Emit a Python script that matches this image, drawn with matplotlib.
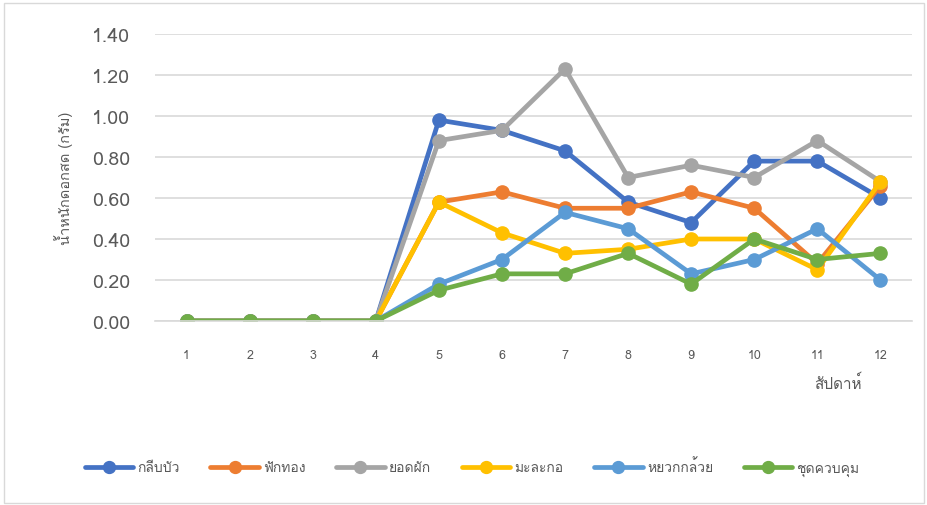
import matplotlib
matplotlib.use("Agg")
import matplotlib.pyplot as plt
from matplotlib import font_manager
from matplotlib.ft2font import FT2Font

weeks = [1, 2, 3, 4, 5, 6, 7, 8, 9, 10, 11, 12]
series_names = ["กลีบบัว", "ฟักทอง", "ยอดผัก", "มะละกอ", "หยวกกล้วย", "ชุดควบคุม"]
lotus = [0, 0, 0, 0, 0.98, 0.93, 0.83, 0.58, 0.48, 0.78, 0.78, 0.60]
pumpkin = [0, 0, 0, 0, 0.58, 0.63, 0.55, 0.55, 0.63, 0.55, 0.28, 0.66]
veg_top = [0, 0, 0, 0, 0.88, 0.93, 1.23, 0.70, 0.76, 0.70, 0.88, 0.68]
papaya = [0, 0, 0, 0, 0.58, 0.43, 0.33, 0.35, 0.40, 0.40, 0.25, 0.68]
banana = [0, 0, 0, 0, 0.18, 0.30, 0.53, 0.45, 0.23, 0.30, 0.45, 0.20]
control = [0, 0, 0, 0, 0.15, 0.23, 0.23, 0.33, 0.18, 0.40, 0.30, 0.33]
y_ticks = [0.0, 0.2, 0.4, 0.6, 0.8, 1.0, 1.2, 1.4]
colors = ["#4472C4", "#ED7D31", "#A5A5A5", "#FFC000", "#5B9BD5", "#70AD47"]

# find a font that has Thai glyphs
thai_fonts = []
for f in font_manager.fontManager.ttflist:
    try:
        cm = FT2Font(f.fname).get_charmap()
        if ord("ก") in cm and f.name not in thai_fonts:
            thai_fonts.append(f.name)
    except Exception:
        pass
plt.rcParams["font.family"] = thai_fonts + ["DejaVu Sans"]

fig = plt.figure(figsize=(9.28, 5.06), dpi=100)
ax = fig.add_axes([155 / 928, 1 - 322 / 506, (912 - 155) / 928, (322 - 35) / 506])

data = [lotus, pumpkin, veg_top, papaya, banana, control]
for name, vals, c in zip(series_names, data, colors):
    ax.plot(weeks, vals, color=c, lw=3.4, marker="o", ms=9.5, label=name,
            solid_capstyle="round")

ax.set_xlim(0.5, 12.5)
ax.set_ylim(0, 1.4)
ax.set_yticks(y_ticks)
ax.set_yticklabels([f"{v:.2f}" for v in y_ticks], fontsize=14, color="#595959")
ax.set_xticks(weeks)
ax.set_xticklabels([str(w) for w in weeks], fontsize=9, color="#595959")
ax.tick_params(axis="x", length=0, pad=20)
ax.tick_params(axis="y", length=0, pad=18)
ax.grid(axis="y", color="#D9D9D9", lw=1.2)
ax.set_axisbelow(True)
for s in ["top", "right", "left"]:
    ax.spines[s].set_visible(False)
ax.spines["bottom"].set_color("#D9D9D9")
ax.spines["bottom"].set_linewidth(1.2)

fig.text(64 / 928, 1 - 178 / 506, "น้ำหนักดอกสด (กรัม)", rotation=90, ha="center",
         va="center", fontsize=10.5, color="#595959")
fig.text(838 / 928, 1 - 383 / 506, "สัปดาห์", ha="center", va="center",
         fontsize=11, color="#595959")

leg = fig.legend(loc="center", bbox_to_anchor=(472 / 928, 1 - 468 / 506), ncol=6,
                 frameon=False, fontsize=10, handlelength=3.5, columnspacing=2.2,
                 handletextpad=0.3, labelcolor="#595959", markerscale=0.9)

fig.patches.append(plt.Rectangle((4 / 928, 2 / 506), 920 / 928, 500 / 506,
                                 transform=fig.transFigure, fill=False,
                                 edgecolor="#D9D9D9", lw=1))
fig.savefig("out.png", dpi=100)
